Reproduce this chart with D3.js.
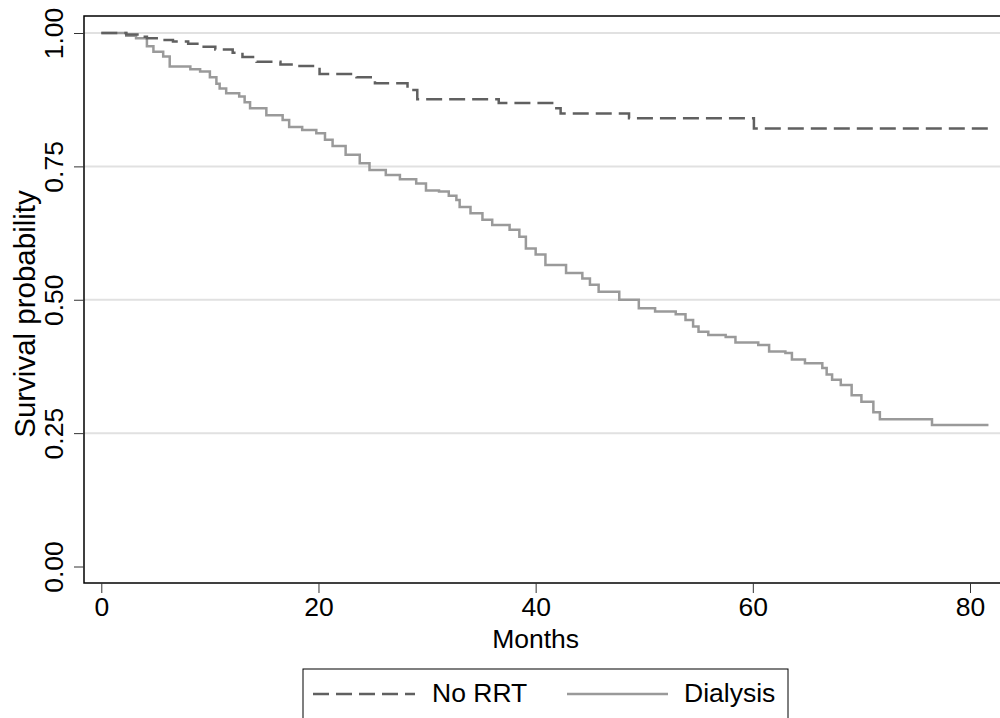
<!DOCTYPE html>
<html>
<head>
<meta charset="utf-8">
<script src="https://cdn.jsdelivr.net/npm/d3@7"></script>
<style>
  body { margin: 0; background: #fff; }
  text { font-family: "Liberation Sans", Arial, sans-serif; fill: #000; }
</style>
</head>
<body>
<div id="chart-area"></div>
<script>
// Kaplan-Meier steps: [month, survival]
var noRRT = [
	[0, 1.0], [2.3, 0.997], [3.5, 0.993], [4.2, 0.990], [5.5, 0.987], [6.6, 0.984],
	[8.0, 0.980], [9.1, 0.974], [10.5, 0.969], [12.1, 0.963], [13.0, 0.955],
	[14.3, 0.946], [16.5, 0.941], [18.0, 0.938], [20.1, 0.923], [23.5, 0.917],
	[25.2, 0.906], [28.2, 0.893], [29.1, 0.876], [36.6, 0.869], [41.7, 0.859],
	[42.3, 0.849], [48.6, 0.840], [60.1, 0.821], [81.7, 0.821]
];

var dialysis = [
	[0, 1.0], [2.3, 0.995], [3.2, 0.990], [4.2, 0.975], [4.8, 0.965], [5.7, 0.956],
	[6.3, 0.937], [8.2, 0.932], [9.1, 0.928], [10.0, 0.917], [10.6, 0.905],
	[10.9, 0.896], [11.5, 0.887], [12.7, 0.881], [13.2, 0.870], [13.7, 0.859],
	[15.2, 0.846], [16.7, 0.837], [17.3, 0.824], [18.5, 0.818], [19.8, 0.812],
	[20.6, 0.800], [21.3, 0.788], [22.5, 0.772], [23.8, 0.756], [24.7, 0.743],
	[26.2, 0.734], [27.5, 0.726], [29.0, 0.718], [29.9, 0.705], [31.1, 0.703],
	[32.0, 0.695], [32.7, 0.687], [33.0, 0.674], [34.0, 0.662], [35.1, 0.650],
	[36.0, 0.640], [37.6, 0.631], [38.5, 0.618], [39.1, 0.596], [40.0, 0.585],
	[40.9, 0.565], [42.8, 0.550], [44.3, 0.540], [45.0, 0.528], [45.8, 0.515],
	[47.7, 0.500], [49.5, 0.484], [51.0, 0.478], [52.9, 0.473], [53.8, 0.462],
	[54.5, 0.450], [55.0, 0.440], [55.9, 0.434], [57.5, 0.430], [58.4, 0.420],
	[60.5, 0.415], [61.5, 0.403], [63.0, 0.400], [63.6, 0.388], [64.8, 0.381],
	[66.4, 0.372], [66.8, 0.360], [67.3, 0.350], [68.1, 0.340], [69.1, 0.321],
	[70.0, 0.309], [71.1, 0.289], [71.7, 0.276], [76.5, 0.265], [81.7, 0.265]
];

var xTicks = [0, 20, 40, 60, 80];
var yTicks = [0, 0.25, 0.5, 0.75, 1];
var seriesNames = ["No RRT", "Dialysis"];

var width = 1000, height = 718;

var svg = d3.select("#chart-area")
	.append("svg")
		.attr("width", width)
		.attr("height", height);

//scales
var x = d3.scaleLinear()
	.domain([0, 80])
	.range([101.3, 970]);

var y = d3.scaleLinear()
	.domain([0, 1])
	.range([566.5, 33]);

var plotLeft = 84, plotTop = 16, plotBottom = 583, plotRight = 1002;

//grid lines
svg.append("g")
	.selectAll("line")
	.data(yTicks.filter(function(d){ return d > 0; }))
	.enter().append("line")
		.attr("x1", plotLeft)
		.attr("x2", plotRight)
		.attr("y1", function(d){ return y(d); })
		.attr("y2", function(d){ return y(d); })
		.attr("stroke", "#e1e1e1")
		.attr("stroke-width", 2);

//curves
var line = d3.line()
	.x(function(d){ return x(d[0]); })
	.y(function(d){ return y(d[1]); })
	.curve(d3.curveStepAfter);

svg.append("path")
	.datum(dialysis)
	.attr("d", line)
	.attr("fill", "none")
	.attr("stroke", "#9a9a9a")
	.attr("stroke-width", 2.5);

svg.append("path")
	.datum(noRRT)
	.attr("d", line)
	.attr("fill", "none")
	.attr("stroke", "#606060")
	.attr("stroke-width", 2.5)
	.attr("stroke-dasharray", "16,7");

//frame
svg.append("rect")
	.attr("x", plotLeft)
	.attr("y", plotTop)
	.attr("width", plotRight - plotLeft)
	.attr("height", plotBottom - plotTop)
	.attr("fill", "none")
	.attr("stroke", "#000")
	.attr("stroke-width", 1.5);

//x axis
var xAxisCall = d3.axisBottom(x)
	.tickValues(xTicks)
	.tickSize(10)
	.tickPadding(4)
	.tickFormat(d3.format("d"));

var xAxis = svg.append("g")
	.attr("class", "x axis")
	.attr("transform", "translate(0, " + plotBottom + ")")
	.call(xAxisCall);
xAxis.select(".domain").remove();
xAxis.selectAll("line").attr("stroke", "#333");
xAxis.selectAll("text")
	.attr("font-size", 26.5)
	.attr("font-family", "Liberation Sans, Arial, sans-serif")
	.attr("fill", "#000");

//y axis
var yAxisCall = d3.axisLeft(y)
	.tickValues(yTicks)
	.tickSize(10)
	.tickFormat(d3.format(".2f"));

var yAxis = svg.append("g")
	.attr("class", "y axis")
	.attr("transform", "translate(" + plotLeft + ", 0)")
	.call(yAxisCall);
yAxis.select(".domain").remove();
yAxis.selectAll("line").attr("stroke", "#333");
yAxis.selectAll("text")
	.attr("font-size", 26.5)
	.attr("font-family", "Liberation Sans, Arial, sans-serif")
	.attr("fill", "#000")
	.attr("x", null)
	.attr("dy", null)
	.attr("text-anchor", "middle")
	.attr("transform", "translate(-21, 0) rotate(-90)");

//labels
svg.append("text")
	.attr("x", x(40))
	.attr("y", 648)
	.attr("font-size", 26.5)
	.attr("text-anchor", "middle")
	.text("Months");

svg.append("text")
	.attr("transform", "translate(35, 314) rotate(-90)")
	.attr("font-size", 29.5)
	.attr("text-anchor", "middle")
	.text("Survival probability");

//legend
var legend = svg.append("g");

legend.append("rect")
	.attr("x", 303)
	.attr("y", 669)
	.attr("width", 485)
	.attr("height", 80)
	.attr("fill", "#fff")
	.attr("stroke", "#000")
	.attr("stroke-width", 1);

var legendItems = [
	{ x1: 313, x2: 415, tx: 432, color: "#606060", dash: "16,7" },
	{ x1: 567, x2: 668, tx: 684, color: "#9a9a9a", dash: null }
];

seriesNames.forEach(function(name, i){
	var item = legendItems[i];
	legend.append("line")
		.attr("x1", item.x1)
		.attr("x2", item.x2)
		.attr("y1", 694)
		.attr("y2", 694)
		.attr("stroke", item.color)
		.attr("stroke-width", 2.5)
		.attr("stroke-dasharray", item.dash);
	legend.append("text")
		.attr("x", item.tx)
		.attr("y", 702)
		.attr("font-size", 26.5)
		.text(name);
});
</script>
</body>
</html>
